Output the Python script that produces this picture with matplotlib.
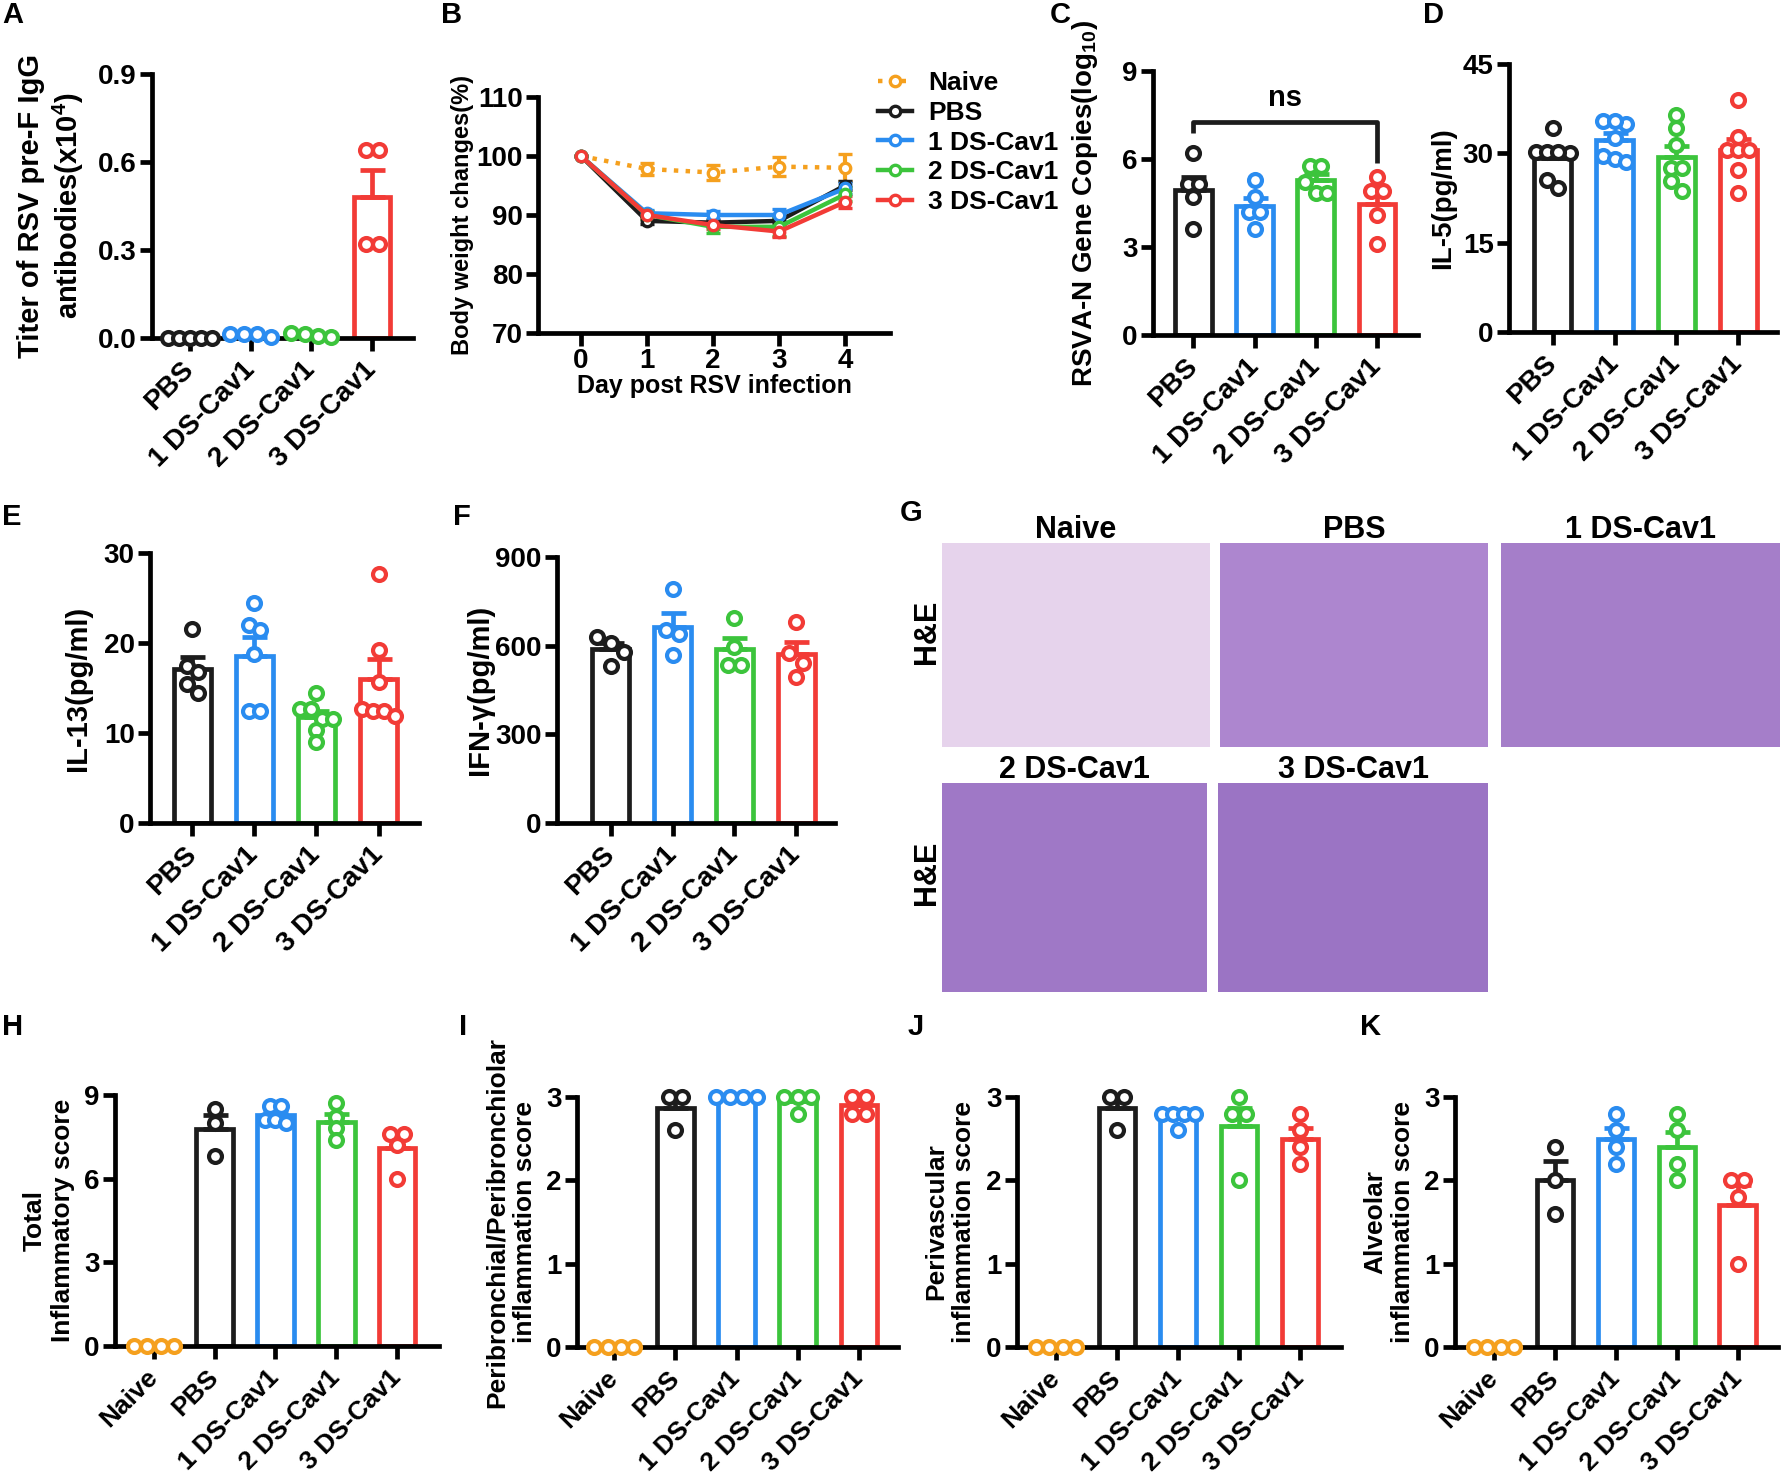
import numpy as np
import matplotlib.pyplot as plt
from matplotlib.lines import Line2D
from matplotlib.ticker import FormatStrFormatter

plt.rcParams['font.family'] = ['Liberation Sans', 'DejaVu Sans']
plt.rcParams['font.weight'] = 'bold'
plt.rcParams['axes.labelweight'] = 'bold'
plt.rcParams['mathtext.fontset'] = 'custom'
plt.rcParams['mathtext.bf'] = 'Liberation Sans:bold'
plt.rcParams['mathtext.rm'] = 'Liberation Sans:bold'
plt.rcParams['mathtext.default'] = 'bf'

# colours
BLACK = '#1c1c1c'
BLUE = '#2a8cf0'
GREEN = '#3cc43c'
RED = '#f23b36'
ORANGE = '#f5a01e'

groups4 = ['PBS', '1 DS-Cav1', '2 DS-Cav1', '3 DS-Cav1']
groups5 = ['Naive', 'PBS', '1 DS-Cav1', '2 DS-Cav1', '3 DS-Cav1']
colors4 = [BLACK, BLUE, GREEN, RED]
colors5 = [ORANGE, BLACK, BLUE, GREEN, RED]

# A - titer of RSV pre-F IgG (x10^4)
titer = [[0, 0, 0, 0, 0],
         [0.004, 0.014, 0.014, 0.014],
         [0.002, 0.015, 0.006, 0.016],
         [0.64, 0.64, 0.32, 0.32]]

# B - body weight (%)
days = [0, 1, 2, 3, 4]
bw_naive = [100, 97.8, 97.2, 98.2, 98.0]
bw_pbs = [100, 89.0, 88.7, 89.0, 95.0]
bw_ds1 = [100, 90.3, 90.0, 90.0, 94.5]
bw_ds2 = [100, 90.0, 88.0, 88.0, 93.5]
bw_ds3 = [100, 90.0, 88.3, 87.2, 92.2]
err_naive = [0, 1.0, 1.2, 1.6, 2.3]
err_pbs = [0, 0.5, 0.5, 0.6, 0.8]
err_ds1 = [0, 0.5, 0.7, 1.0, 1.0]
err_ds2 = [0, 0.6, 1.0, 1.6, 1.2]
err_ds3 = [0, 0.5, 0.6, 1.0, 1.0]

# C - RSVA-N gene copies (log10)
rsv = [[6.2, 5.15, 5.15, 4.7, 3.6],
       [5.3, 4.7, 4.2, 4.2, 3.6],
       [5.75, 5.75, 5.2, 4.85, 4.85],
       [5.4, 4.9, 4.9, 4.1, 3.1]]

# D - IL-5 (pg/ml)
il5 = [[34.2, 30.3, 30.3, 30.0, 30.3, 25.5, 24.2],
       [35.5, 35.0, 35.5, 32.5, 29.5, 29.0, 28.5],
       [36.4, 34.2, 31.4, 27.5, 27.5, 25.3, 23.6],
       [39.0, 32.8, 30.5, 30.5, 30.5, 27.2, 23.3]]

# E - IL-13 (pg/ml)
il13 = [[21.6, 17.5, 16.8, 15.5, 14.4],
        [24.4, 22.0, 21.4, 18.8, 12.5, 12.5],
        [14.4, 12.7, 12.7, 11.6, 11.6, 10.3, 9.0],
        [27.7, 19.2, 15.7, 12.7, 12.5, 12.5, 11.9]]

# F - IFN-gamma (pg/ml)
ifng = [[610, 630, 580, 530],
        [793, 652, 641, 568],
        [692, 596, 534, 534],
        [680, 574, 540, 495]]

# H-K - histology scores
total_score = [[0, 0, 0, 0],
               [8.5, 8.0, 6.8],
               [8.6, 8.6, 8.1, 8.1, 8.0],
               [8.7, 8.2, 7.8, 7.4],
               [7.6, 7.6, 7.2, 6.0]]
peribron_score = [[0, 0, 0, 0],
                  [3.0, 3.0, 2.6],
                  [3.0, 3.0, 3.0, 3.0],
                  [3.0, 3.0, 3.0, 2.8],
                  [3.0, 3.0, 2.8, 2.8]]
perivasc_score = [[0, 0, 0, 0],
                  [3.0, 3.0, 2.6],
                  [2.8, 2.8, 2.8, 2.8, 2.6],
                  [3.0, 2.8, 2.8, 2.0],
                  [2.8, 2.6, 2.4, 2.2]]
alveolar_score = [[0, 0, 0, 0],
                  [2.4, 2.0, 1.6],
                  [2.8, 2.6, 2.4, 2.2],
                  [2.8, 2.6, 2.2, 2.0],
                  [2.0, 2.0, 1.8, 1.0]]

W, H = 1785, 1482
fig = plt.figure(figsize=(W / 100, H / 100), dpi=100)

TICK_FS = 20


def add_ax(l, t, r, b):
    return fig.add_axes([l / W, 1 - b / H, (r - l) / W, (b - t) / H])


def prism(ax):
    for s in ['top', 'right']:
        ax.spines[s].set_visible(False)
    for s in ['left', 'bottom']:
        ax.spines[s].set_linewidth(3.4)
    ax.tick_params(width=3.4, length=9, labelsize=TICK_FS, pad=2)


def ylabel_at(ax, text, x_px, size=20):
    l, t, r, b = ax._px
    ax.set_ylabel(text, fontsize=size)
    ax.yaxis.set_label_coords((x_px - l) / (r - l), 0.5)


def swarm(vals, thresh, step):
    vals = np.asarray(vals, dtype=float)
    order = np.argsort(-vals, kind='stable')
    offs = np.zeros(len(vals))
    clusters, cur = [], [order[0]]
    for i in order[1:]:
        if abs(vals[cur[-1]] - vals[i]) < thresh:
            cur.append(i)
        else:
            clusters.append(cur)
            cur = [i]
    clusters.append(cur)
    for c in clusters:
        n = len(c)
        for k, idx in enumerate(c):
            offs[idx] = (k - (n - 1) / 2) * step
    return offs


def dot_bar(box, names, data, colors, ylim, yticks, xlim, fmt=None,
            xfs=TICK_FS):
    ax = add_ax(*box)
    ax._px = box
    prism(ax)
    thresh = (ylim[1] - ylim[0]) * 0.04
    for i, (vals, c) in enumerate(zip(data, colors)):
        m = np.mean(vals)
        sem = np.std(vals, ddof=1) / np.sqrt(len(vals))
        ax.bar(i, m, width=0.6, facecolor='white', edgecolor=c,
               linewidth=3.4, zorder=1)
        if m > 0:
            ax.errorbar(i, m, yerr=[[0], [sem]], color=c, capsize=9,
                        capthick=3.4, elinewidth=3.4, zorder=2)
        step = 0.18 if len(vals) > 4 else 0.22
        offs = swarm(vals, thresh, step)
        ax.plot(i + offs, vals, 'o', ms=9.3, mfc='white', mec=c, mew=3.0,
                ls='none', zorder=4, clip_on=False)
    ax.set_xlim(*xlim)
    ax.set_ylim(*ylim)
    ax.set_yticks(yticks)
    if fmt:
        ax.yaxis.set_major_formatter(FormatStrFormatter(fmt))
    ax.set_xticks(range(len(names)))
    ax.set_xticklabels(names, rotation=45, ha='right', va='center',
                       rotation_mode='anchor', fontsize=xfs)
    ax.tick_params(axis='x', pad=11)
    return ax


def letter(x, y, s):
    fig.text(x / W, 1 - y / H, s, fontsize=21, fontweight='bold',
             ha='left', va='center')


# ---- A ----
axA = dot_bar((152, 74, 413, 338), groups4, titer, colors4, (0, 0.9),
              [0, 0.3, 0.6, 0.9], (-0.62, 3.67), fmt='%.1f')
ylabel_at(axA, 'Titer of RSV pre-F IgG\nantibodies(x10$^{4}$)', 86, 21)

# ---- B ----
axB = add_ax(538, 97, 890, 333)
axB._px = (538, 97, 890, 333)
prism(axB)
series = [(bw_naive, err_naive, ORANGE, ':'),
          (bw_pbs, err_pbs, BLACK, '-'),
          (bw_ds1, err_ds1, BLUE, '-'),
          (bw_ds2, err_ds2, GREEN, '-'),
          (bw_ds3, err_ds3, RED, '-')]
handles = []
for vals, err, c, ls in series:
    axB.errorbar(days, vals, yerr=err, color=c, ls=ls, lw=3.2, marker='o',
                 ms=7.5, mfc='white', mec=c, mew=2.4, capsize=5, capthick=3,
                 elinewidth=3, zorder=3)
    handles.append(Line2D([], [], color=c, ls=ls, lw=3.2, marker='o', ms=7.5,
                          mfc='white', mec=c, mew=2.4))
axB.set_xlim(-0.65, 4.68)
axB.set_ylim(70, 110)
axB.set_yticks([70, 80, 90, 100, 110])
axB.set_xticks(days)
axB.set_xlabel('Day post RSV infection', fontsize=18, labelpad=0)
ylabel_at(axB, 'Body weight changes(%)', 474, 17)
axB.legend(handles, groups5, loc='upper left', bbox_to_anchor=(878 / W, 1 - 71 / H),
           bbox_transform=fig.transFigure, frameon=False, fontsize=19,
           handlelength=1.3, handletextpad=0.6, labelspacing=0.22,
           borderpad=0, borderaxespad=0)

# ---- C ----
axC = dot_bar((1153, 71, 1418, 335), groups4, rsv, colors4, (0, 9),
              [0, 3, 6, 9], (-0.66, 3.67))
ylabel_at(axC, 'RSVA-N Gene Copies(log$_{10}$)', 1100, 20)
axC.plot([0, 0, 3, 3], [6.9, 7.25, 7.25, 5.85], color=BLACK, lw=3.4,
         solid_capstyle='butt', zorder=5)
axC.text(1.5, 7.6, 'ns', ha='center', va='bottom', fontsize=21,
         fontweight='bold')

# ---- D ----
axD = dot_bar((1509, 64, 1777, 332), groups4, il5, colors4, (0, 45),
              [0, 15, 30, 45], (-0.71, 3.63))
ylabel_at(axD, 'IL-5(pg/ml)', 1456, 20)

# ---- E ----
axE = dot_bar((150, 553, 419, 823), groups4, il13, colors4, (0, 30),
              [0, 10, 20, 30], (-0.68, 3.65))
ylabel_at(axE, 'IL-13(pg/ml)', 92, 21)

# ---- F ----
axF = dot_bar((557, 557, 835, 823), groups4, ifng, colors4, (0, 900),
              [0, 300, 600, 900], (-0.87, 3.63))
ylabel_at(axF, 'IFN-γ(pg/ml)', 494, 21)

# ---- G (H&E images, drawn as tinted tiles) ----
tiles = [('Naive', (942, 543, 1210, 747), '#e6d3ec'),
         ('PBS', (1220, 543, 1488, 747), '#ad86cf'),
         ('1 DS-Cav1', (1501, 543, 1780, 747), '#a57ec9'),
         ('2 DS-Cav1', (942, 783, 1207, 992), '#9f78c6'),
         ('3 DS-Cav1', (1218, 783, 1488, 992), '#9b74c4')]
for name, box, col in tiles:
    axg = add_ax(*box)
    axg.set_facecolor(col)
    axg.set_xticks([])
    axg.set_yticks([])
    for s in axg.spines.values():
        s.set_visible(False)
    l, t, r, b = box
    fig.text((l + r) / 2 / W, 1 - (t - 13) / H, name, ha='center',
             va='center', fontsize=22, fontweight='bold')
for yc in [632, 873]:
    fig.text(927 / W, 1 - yc / H, 'H&E', ha='center', va='center',
             rotation=90, fontsize=22, fontweight='bold')

# ---- H-K ----
axH = dot_bar((115, 1095, 439, 1346), groups5, total_score, colors5, (0, 9),
              [0, 3, 6, 9], (-0.64, 4.69), xfs=19)
ylabel_at(axH, 'Total\nInflammatory score', 75, 19)

axI = dot_bar((577, 1097, 898, 1347), groups5, peribron_score, colors5, (0, 3),
              [0, 1, 2, 3], (-0.61, 4.64), xfs=19)
ylabel_at(axI, 'Peribronchial/Peribronchiolar\ninflammation score', 537, 19)

axJ = dot_bar((1017, 1097, 1341, 1347), groups5, perivasc_score, colors5, (0, 3),
              [0, 1, 2, 3], (-0.64, 4.67), xfs=19)
ylabel_at(axJ, 'Perivascular\ninflammation score', 976, 19)

axK = dot_bar((1455, 1097, 1778, 1347), groups5, alveolar_score, colors5, (0, 3),
              [0, 1, 2, 3], (-0.64, 4.66), xfs=19)
ylabel_at(axK, 'Alveolar\ninflammation score', 1415, 19)

# panel letters
letter(2, 15, 'A')
letter(441, 15, 'B')
letter(1050, 15, 'C')
letter(1423, 15, 'D')
letter(2, 517, 'E')
letter(453, 517, 'F')
letter(900, 513, 'G')
letter(2, 1027, 'H')
letter(459, 1027, 'I')
letter(908, 1027, 'J')
letter(1360, 1027, 'K')

fig.savefig('out.png', dpi=100)
